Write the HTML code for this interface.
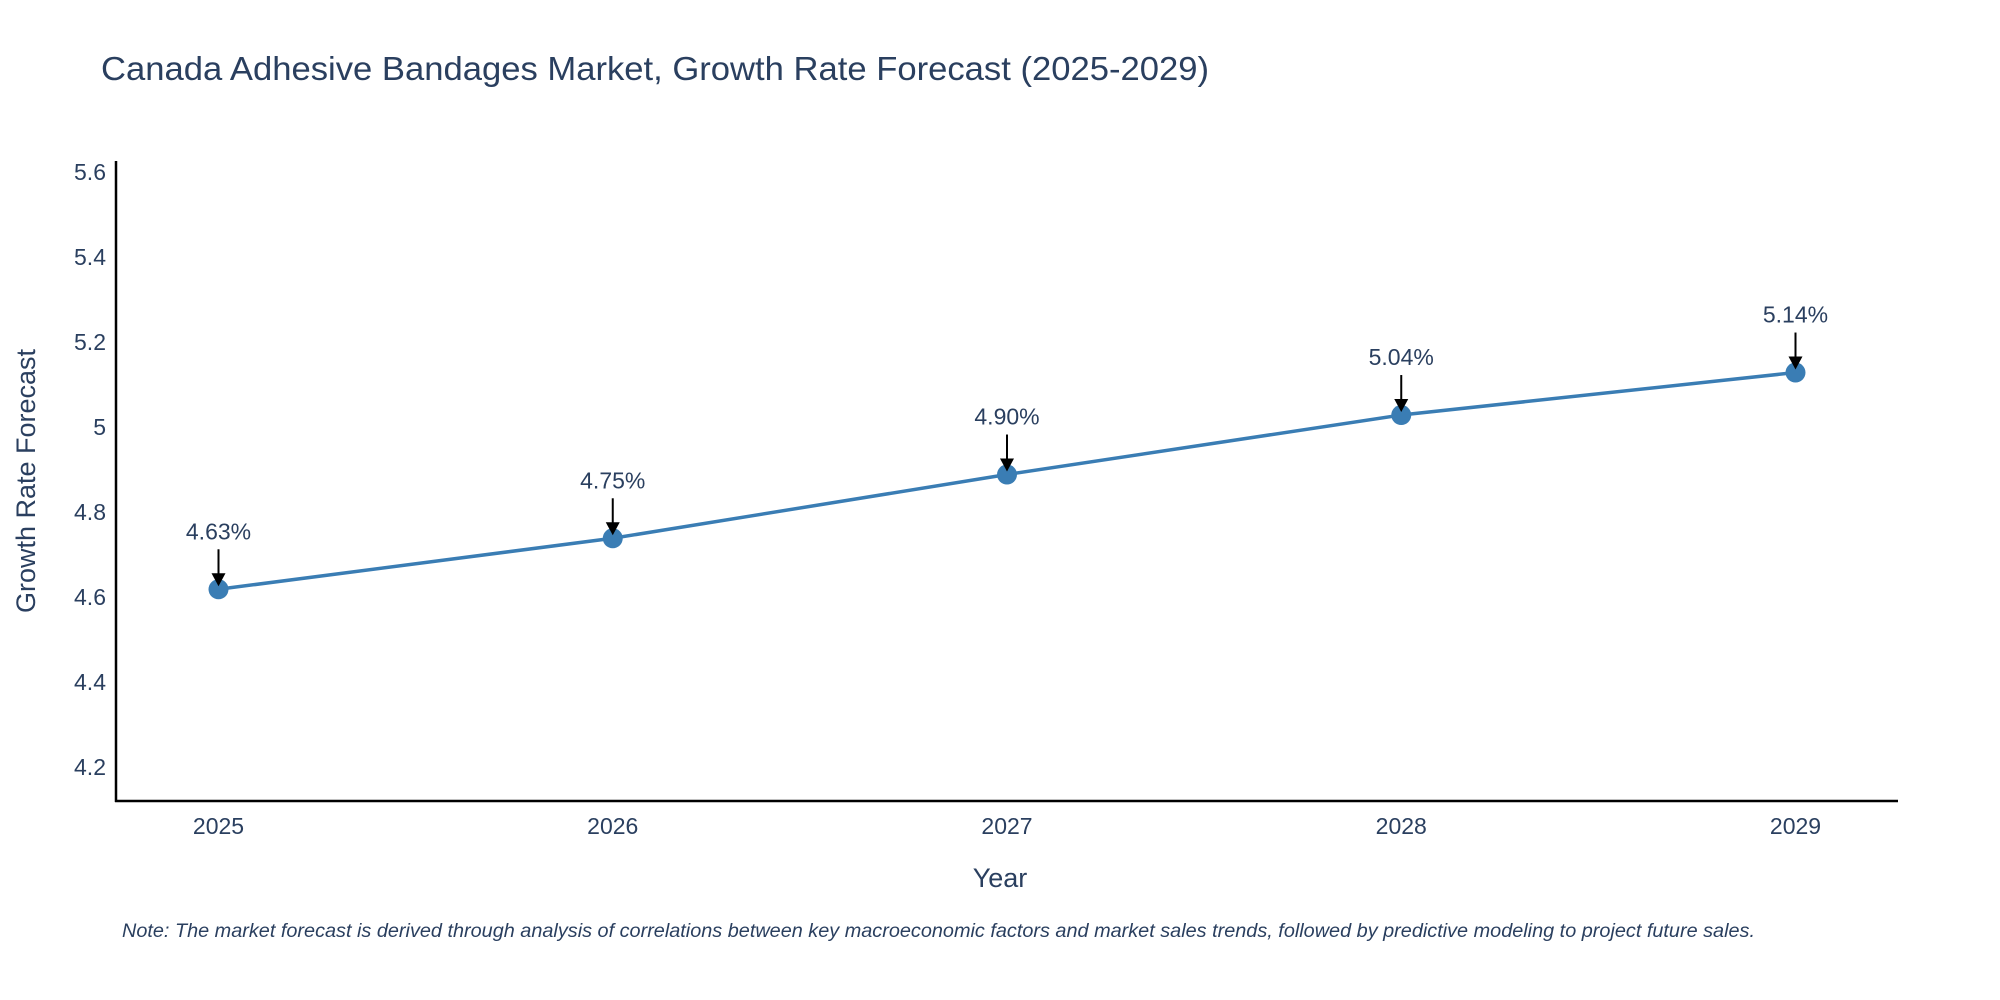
<!DOCTYPE html>
<html><head><meta charset="utf-8"><style>
body{margin:0;background:#fff;}
svg{display:block;font-family:"Liberation Sans",sans-serif;}
</style></head><body>
<svg id="chart" width="2000" height="1000" viewBox="0 0 2000 1000">
<text x="101" y="80" font-size="33" fill="#2a3f5f" textLength="1108" lengthAdjust="spacingAndGlyphs">Canada Adhesive Bandages Market, Growth Rate Forecast (2025-2029)</text>
<g id="axes"></g>
<g id="series"></g>
<text x="1000" y="887" font-size="27" fill="#2a3f5f" text-anchor="middle">Year</text>
<text transform="translate(35,481) rotate(-90)" font-size="27" fill="#2a3f5f" text-anchor="middle">Growth Rate Forecast</text>
<text x="122" y="937" font-size="19" font-style="italic" fill="#2a3f5f" textLength="1633" lengthAdjust="spacingAndGlyphs">Note: The market forecast is derived through analysis of correlations between key macroeconomic factors and market sales trends, followed by predictive modeling to project future sales.</text>
</svg>
<script>
const years = [2025, 2026, 2027, 2028, 2029];
const rates = [4.63, 4.75, 4.90, 5.04, 5.14];
const rateLabels = ["4.63%", "4.75%", "4.90%", "5.04%", "5.14%"];
const yTicks = [4.2, 4.4, 4.6, 4.8, 5.0, 5.2, 5.4, 5.6];
const yTickLabels = ["4.2", "4.4", "4.6", "4.8", "5", "5.2", "5.4", "5.6"];

const NS = "http://www.w3.org/2000/svg";
const X0 = 116, X1 = 1898, Y0 = 806, Y1 = 166;
const AX_TOP = 161, AX_BOT = 801;
const xMin = 2024.74, xMax = 2029.26, yMin = 4.12, yMax = 5.626;
const xs = v => X0 + (v - xMin) / (xMax - xMin) * (X1 - X0);
const ys = v => Y0 - (v - yMin) / (yMax - yMin) * (Y0 - Y1);
function mk(tag, attrs, parent, text) {
  const e = document.createElementNS(NS, tag);
  for (const k in attrs) e.setAttribute(k, attrs[k]);
  if (text !== undefined) e.textContent = text;
  parent.appendChild(e);
  return e;
}
const axes = document.getElementById('axes');
const series = document.getElementById('series');
let e;
e = mk('line', {x1: X0, y1: AX_TOP, x2: X0, y2: AX_BOT + 1, stroke: '#000', 'stroke-width': 2.5}, axes);


e = mk('line', {x1: X0 - 1, y1: AX_BOT, x2: X1, y2: AX_BOT, stroke: '#000', 'stroke-width': 2.5}, axes);


yTicks.forEach((t, i) => {
  e = mk('text', {x: X0 - 10, y: ys(t) + 3, 'font-size': 23, fill: '#2a3f5f', 'text-anchor': 'end'}, axes, yTickLabels[i]);
  
  
});
years.forEach(y => {
  e = mk('text', {x: xs(y), y: 834, 'font-size': 23, fill: '#2a3f5f', 'text-anchor': 'middle'}, axes, String(y));
  
  
});
const pts = years.map((y, i) => xs(y) + ',' + ys(rates[i])).join(' ');
e = mk('polyline', {points: pts, fill: 'none', stroke: '#3a7db4', 'stroke-width': 3.5}, series);


years.forEach((y, i) => {
  const cx = xs(y), cy = ys(rates[i]);
  e = mk('circle', {cx: cx, cy: cy, r: 10, fill: '#3a7db4'}, series);
  
  
  e = mk('line', {x1: cx, y1: cy - 40, x2: cx, y2: cy - 14, stroke: '#000', 'stroke-width': 2}, series);
  
  
  e = mk('polygon', {points: `${cx - 7},${cy - 16} ${cx + 7},${cy - 16} ${cx},${cy - 3}`, fill: '#000'}, series);
  
  
  e = mk('text', {x: cx, y: cy - 50, 'font-size': 23, fill: '#2a3f5f', 'text-anchor': 'middle'}, series, rateLabels[i]);
  
  
});
</script>
</body></html>
